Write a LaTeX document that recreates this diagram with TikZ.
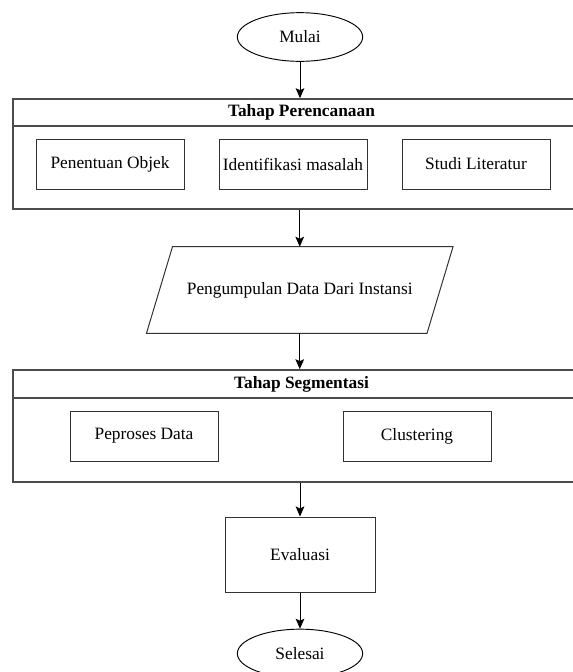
\documentclass[tikz,border=0pt]{standalone}
\usepackage{fontspec}
\setmainfont{Liberation Serif}
\usetikzlibrary{shapes,arrows.meta,calc}

\begin{document}
\begin{tikzpicture}[
    x=0.75pt, y=-0.75pt,
    every node/.style={font=\fontsize{13}{15}\selectfont},
    terminal/.style={ellipse, draw, line width=0.7pt, inner sep=0pt, minimum width=94pt, minimum height=36.5pt},
    frame/.style={rectangle, draw=black!70, line width=1.2pt, minimum width=432.75pt},
    header/.style={rectangle, draw=black!70, line width=1.2pt, minimum width=432.75pt, font=\fontsize{13}{15}\selectfont\bfseries},
    task/.style={rectangle, draw=black!80, line width=0.75pt, minimum width=111pt, minimum height=37.5pt, inner sep=1pt},
    flow/.style={-{Stealth[length=7.5pt, width=6.5pt, inset=1.5pt]}, line width=0.7pt}
]

% Page size (the picture is cut at the right and the bottom)
\useasboundingbox (0,0) rectangle (573,672);
\clip (0,0) rectangle (573,672);

% Start
\node[terminal] (mulai) at (300,37) {Mulai};

% Planning stage
\node[frame, minimum height=82.5pt] (plan) at (301.5,154) {};
\node[header, minimum height=20.25pt] (planhead) at (301.5,112.5) {Tahap Perencanaan};
\node[task] (objek) at (110,164) {Penentuan Objek};
\node[task] (masalah) at (293,164) {Identifikasi masalah};
\node[task] (studi) at (476,164) {Studi Literatur};

% Data collection
\node[minimum width=210pt, minimum height=64.5pt] (data) at (299.75,290) {Pengumpulan Data Dari Instansi};
\draw[line width=0.75pt, draw=black!80] ($(data.south west)+(-13,0)$) -- ($(data.north west)+(13,0)$)
    -- ($(data.north east)+(13,0)$) -- ($(data.south east)+(-13,0)$) -- cycle;

% Segmentation stage
\node[frame, minimum height=84pt] (seg) at (301.5,426) {};
\node[header, minimum height=21pt] (seghead) at (301.5,384) {Tahap Segmentasi};
\node[task] (proses) at (144,436) {Peproses Data};
\node[task] (cluster) at (417,436) {Clustering};

% Evaluation and end
\node[task, minimum width=112.5pt, minimum height=56.25pt] (eval) at (300,554.5) {Evaluasi};
\node[terminal] (selesai) at (300,653.5) {Selesai};

% Arrows
\draw[flow] (mulai) -- (mulai |- planhead.north);
\draw[flow] (plan.south -| data.north) -- (data.north);
\draw[flow] (data.south) -- (data.south |- seghead.north);
\draw[flow] (seg.south -| eval.north) -- (eval.north);
\draw[flow] (eval) -- (selesai);

\end{tikzpicture}
\end{document}
